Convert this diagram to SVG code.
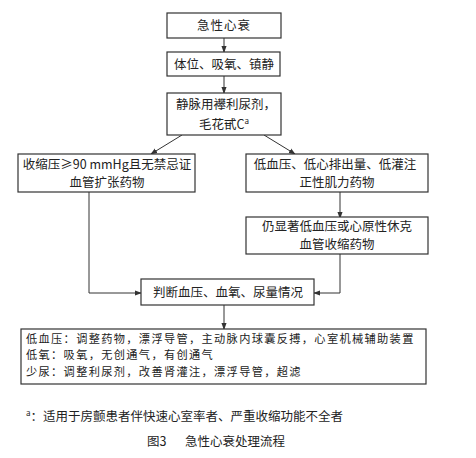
<svg xmlns="http://www.w3.org/2000/svg" width="476" height="458" viewBox="0 0 476 458">
<defs>
<style>
.box{fill:#fff;stroke:#333;stroke-width:1.2}
.t{font-family:"Noto Sans CJK SC","Liberation Serif",sans-serif;font-size:12.5px;fill:#222;text-anchor:middle}
.tl{font-family:"Noto Sans CJK SC","Liberation Serif",sans-serif;font-size:12.5px;fill:#222}
.sm{font-size:11.2px;letter-spacing:1.35px}
.ln{fill:none;stroke:#333;stroke-width:1}
</style>
<marker id="ah" viewBox="0 0 8 8" refX="7" refY="4" markerWidth="7" markerHeight="7" orient="auto" markerUnits="userSpaceOnUse">
<path d="M0,1 L8,4 L0,7 Z" fill="#333"/>
</marker>
</defs>
<rect width="476" height="458" fill="#fff"/>
<g id="connectors">
<line class="ln" x1="224" y1="38" x2="224" y2="52" marker-end="url(#ah)"/>
<line class="ln" x1="224" y1="76" x2="224" y2="93" marker-end="url(#ah)"/>
<line class="ln" x1="182" y1="135" x2="151" y2="154" marker-end="url(#ah)"/>
<line class="ln" x1="264" y1="135" x2="295" y2="154" marker-end="url(#ah)"/>
<line class="ln" x1="340" y1="192" x2="340" y2="218" marker-end="url(#ah)"/>
<polyline class="ln" points="89,192 89,293 141,293" marker-end="url(#ah)"/>
<polyline class="ln" points="340,254 340,293 314,293" marker-end="url(#ah)"/>
<line class="ln" x1="224" y1="305" x2="224" y2="329" marker-end="url(#ah)"/>
</g>
<g id="n1"><rect class="box" x="167" y="13" width="114" height="25"/><text class="t" x="224" y="30" letter-spacing="1">急性心衰</text></g>
<g id="n2"><rect class="box" x="167" y="52" width="113" height="24"/><text class="t" x="224" y="69">体位、吸氧、镇静</text></g>
<g id="n3"><rect class="box" x="167" y="93" width="114" height="42"/><text class="t" x="226" y="109">静脉用襻利尿剂，</text><text class="t" x="224" y="129">毛花甙C<tspan font-size="8" dy="-5">a</tspan></text></g>
<g id="n4"><rect class="box" x="18" y="154" width="177" height="38"/><text class="t" x="107" y="169">收缩压≥90 mmHg且无禁忌证</text><text class="t" x="107" y="187">血管扩张药物</text></g>
<g id="n5"><rect class="box" x="246" y="154" width="182" height="38"/><text class="t" x="335" y="169">低血压、低心排出量、低灌注</text><text class="t" x="337" y="187">正性肌力药物</text></g>
<g id="n6"><rect class="box" x="246" y="217" width="182" height="37"/><text class="t" x="337" y="231">仍显著低血压或心原性休克</text><text class="t" x="337" y="249">血管收缩药物</text></g>
<g id="n7"><rect class="box" x="141" y="279" width="173" height="26"/><text class="t" x="228" y="297">判断血压、血氧、尿量情况</text></g>
<g id="n8"><rect class="box" x="21" y="329" width="405" height="55"/>
<text class="tl sm" x="26" y="342.5">低血压：调整药物，漂浮导管，主动脉内球囊反搏，心室机械辅助装置</text>
<text class="tl sm" x="26" y="359">低氧：吸氧，无创通气，有创通气</text>
<text class="tl sm" x="26" y="375.5">少尿：调整利尿剂，改善肾灌注，漂浮导管，超滤</text>
</g>
<text class="tl" x="26" y="421" font-size="13.5"><tspan font-size="8" dy="-5">a</tspan><tspan dy="5">：适用于房颤患者伴快速心室率者、严重收缩功能不全者</tspan></text>
<text class="tl" x="147" y="446" font-size="14">图3<tspan x="185">急性心衰处理流程</tspan></text>
</svg>
